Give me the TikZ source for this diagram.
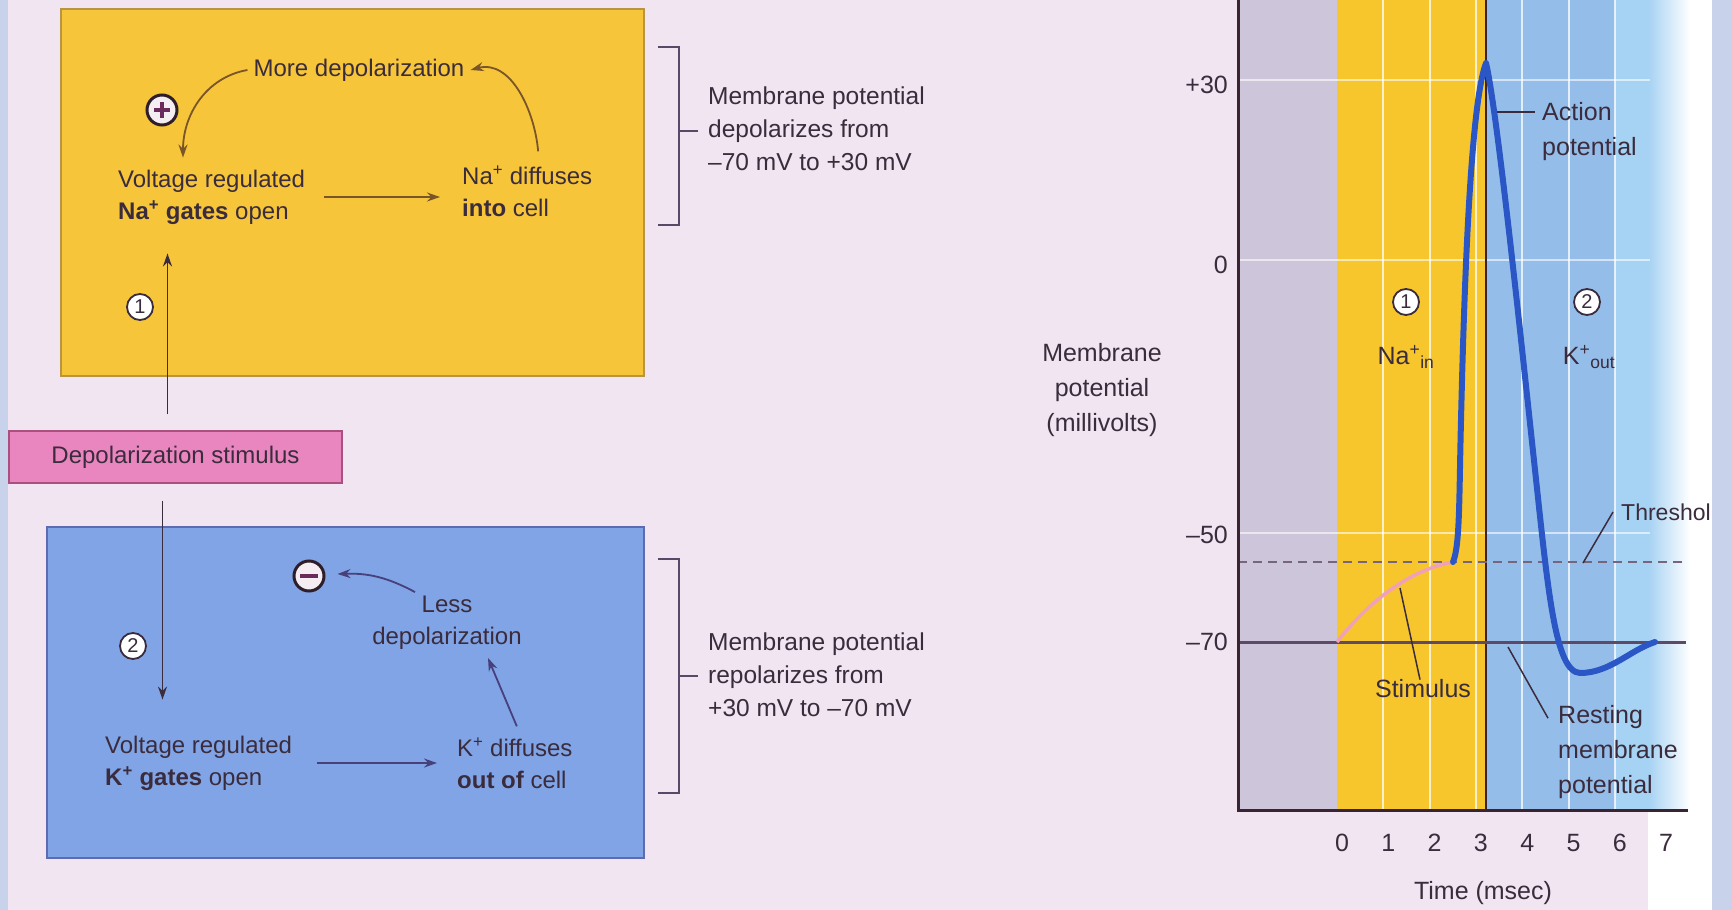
\documentclass[tikz,border=0pt]{standalone}
\usepackage{fontspec}
\setmainfont{Liberation Sans}
\usetikzlibrary{arrows.meta,shadings}
\definecolor{bg}{HTML}{F0E5F0}
\definecolor{edgec}{HTML}{C8D2EA}
\definecolor{ybox}{HTML}{F6C53A}
\definecolor{yboxb}{HTML}{B99443}
\definecolor{bbox}{HTML}{80A4E6}
\definecolor{bboxb}{HTML}{5D6CB0}
\definecolor{pbox}{HTML}{EA86BF}
\definecolor{pboxb}{HTML}{A9507F}
\definecolor{ink}{HTML}{3A2C3C}
\definecolor{brownarr}{HTML}{7A5528}
\definecolor{bluearr}{HTML}{47407A}
\definecolor{ggrey}{HTML}{CDC5D9}
\definecolor{gyel}{HTML}{F7C62C}
\definecolor{gblue}{HTML}{95BDEA}
\definecolor{gbluetwo}{HTML}{A6D2F3}
\definecolor{apblue}{HTML}{2A56C6}
\definecolor{stimpink}{HTML}{F0A0B8}
\definecolor{axisc}{HTML}{3A2430}
\definecolor{restc}{HTML}{5E4A66}
\definecolor{brkc}{HTML}{5A4868}
\definecolor{signink}{HTML}{2E1E2A}
\definecolor{signfill}{HTML}{F4EEF2}
\definecolor{plusc}{HTML}{6A2A5A}
\begin{document}
\begin{tikzpicture}[x=1pt,y=-1pt,
  txt/.style={font=\fontsize{24}{32}\selectfont, text=ink, inner sep=0pt, align=left},
  gtxt/.style={font=\fontsize{25}{35}\selectfont, text=ink, inner sep=0pt},
  arr/.style={-{Stealth[length=13pt,width=9pt]}, line width=1.8pt},
  numc/.style={circle, draw=ink, line width=1.8pt, fill=white, inner sep=0pt, minimum size=26pt, font=\fontsize{20}{20}\selectfont, text=ink},
  signc/.style={circle, draw=signink, line width=3pt, fill=signfill, minimum size=30pt, inner sep=0pt},
  leader/.style={draw=ink, line width=1.5pt},
  brk/.style={draw=brkc, line width=2pt}]
\useasboundingbox (0,0) rectangle (1732,910);
\fill[bg] (0,0) rectangle (1732,910);
\fill[edgec] (0,0) rectangle (8,910);

% ---------- boxes ----------
\fill[ybox] (61,9) rectangle (644,376);
\draw[yboxb, line width=1.5pt] (61,9) rectangle (644,376);
\fill[bbox] (47,527) rectangle (644,858);
\draw[bboxb, line width=1.5pt] (47,527) rectangle (644,858);

% ---------- yellow box content ----------
\node[txt, anchor=center] (moredep) at (359,70) {More depolarization};
\node[txt, anchor=west] (naopen) at (118,197) {Voltage regulated\\\textbf{Na\textsuperscript{+} gates} open};
\node[txt, anchor=west] (nadiff) at (462,191) {Na\textsuperscript{+} diffuses\\\textbf{into} cell};
\node[signc] (plus) at (162,110) {};
\draw[line width=3.5pt, plusc] ([xshift=-8pt]plus.center) -- ([xshift=8pt]plus.center)
  ([yshift=-8pt]plus.center) -- ([yshift=8pt]plus.center);
\node[numc] (c1) at (140,307) {1};
\draw[arr, brownarr] ([xshift=-6pt]moredep.west) to[out=190, in=90] ([xshift=65pt,yshift=12pt]naopen.north west);
\draw[arr, brownarr] ([xshift=11pt,yshift=14pt]nadiff.north) to[out=95, in=15] ([xshift=6pt]moredep.east);
\draw[arr, brownarr, shorten <=19pt, shorten >=22pt] (naopen.east) -- (naopen.east -| nadiff.west);

% ---------- stimulus ----------
\node[rectangle, fill=pbox, draw=pboxb, line width=1.5pt, minimum width=333pt, minimum height=52pt,
  inner sep=0pt, font=\fontsize{24}{28}\selectfont, text=ink] (stim) at (175.5,457) {Depolarization stimulus};
\coordinate (upa) at ([xshift=-8pt,yshift=16pt]stim.north);
\draw[arr, ink, line width=1.5pt, shorten >=29pt] (upa) -- (upa |- naopen.south);

% ---------- blue box content ----------
\node[signc] (minus) at (309,576) {};
\draw[line width=4pt, plusc] ([xshift=-9pt]minus.center) -- ([xshift=9pt]minus.center);
\node[txt, align=center] (lessdep) at (447,623) {Less\\depolarization};
\node[txt, anchor=west] (kopen) at (105,763) {Voltage regulated\\\textbf{K\textsuperscript{+} gates} open};
\node[txt, anchor=west] (kdiff) at (457,763) {K\textsuperscript{+} diffuses\\\textbf{out of} cell};
\node[numc] (c2) at (133,646) {2};
\coordinate (dna) at ([xshift=-13pt,yshift=-17pt]stim.south);
\draw[arr, ink, line width=1.5pt, shorten >=36pt] (dna) -- (dna |- kopen.north);
\draw[arr, bluearr] ([xshift=-32pt,yshift=4pt]lessdep.north) to[bend right=15] ([xshift=12pt,yshift=2pt]minus.east);
\draw[arr, bluearr] ([xshift=2pt,yshift=11pt]kdiff.north) -- ([xshift=41pt,yshift=-8pt]lessdep.south);
\draw[arr, bluearr, shorten <=25pt, shorten >=20pt] (kopen.east) -- (kopen.east -| kdiff.west);

% ---------- brackets & side texts ----------
\node[txt, anchor=west, font=\fontsize{24.5}{33}\selectfont] (deptxt) at (708,129) {Membrane potential\\depolarizes from\\--70 mV to +30 mV};
\node[txt, anchor=west, font=\fontsize{24.5}{33}\selectfont] (reptxt) at (708,675) {Membrane potential\\repolarizes from\\+30 mV to --70 mV};
\draw[brk] (658,47) -- (679,47) -- (679,225) -- (658,225);
\draw[brk] (679,131) -- ([xshift=-10pt]deptxt.west |- 0,131);
\draw[brk] (658,559) -- (679,559) -- (679,793) -- (658,793);
\draw[brk] (679,676) -- ([xshift=-10pt]reptxt.west |- 0,676);

% ---------- graph background ----------
\fill[white] (1648,0) rectangle (1712,910);
\fill[ggrey] (1238,0) rectangle (1337,810);
\fill[gyel] (1337,0) rectangle (1486,810);
\fill[gblue] (1486,0) rectangle (1615,810);
\fill[gbluetwo] (1615,0) rectangle (1648,810);
\shade[left color=gbluetwo, right color=white] (1648,0) rectangle (1690,810);
\foreach \t in {1,...,6} {
  \draw[white, line width=2pt, opacity=0.75] ({1337+46.3*\t},0) -- ({1337+46.3*\t},810);
}
\foreach \yy in {80,260,533} {
  \draw[white, line width=2pt, opacity=0.6] (1238,\yy) -- (1650,\yy);
}
\draw[axisc, line width=2.5pt] (1486,0) -- (1486,810);
\draw[restc, line width=3pt] (1238,642) -- (1686,642);
\draw[restc!85, line width=2.5pt, dash pattern=on 9pt off 6pt] (1238,562) -- (1682,562);
\draw[axisc, line width=3pt] (1238,0) -- (1238,810) -- (1688,810);
\draw[stimpink, line width=3.5pt] (1337,642) .. controls (1370,600) and (1410,570) .. (1453,562);
\draw[apblue, line width=6pt, line join=round, line cap=round]
  (1453,562) .. controls (1460,545) and (1459,500) .. (1461,420)
  .. controls (1465,250) and (1472,100) .. (1486,63)
  .. controls (1497,110) and (1520,330) .. (1535,470)
  .. controls (1548,590) and (1555,672) .. (1580,673)
  .. controls (1610,673) and (1630,650) .. (1655,642);

% ---------- graph labels ----------
\node[gtxt, anchor=east] (t30) at (1228,85) {+30};
\node[gtxt, anchor=east] (t0) at (1228,265) {0};
\node[gtxt, anchor=east] (t50) at (1228,535) {--50};
\node[gtxt, anchor=east] (t70) at (1228,642) {--70};
\node[gtxt, align=center] (ylab) at (1102,390) {Membrane\\potential\\(millivolts)};
\foreach \t in {0,...,7} {
  \node[gtxt] (x\t) at ({1342+46.3*\t},843) {\t};
}
\node[gtxt] (xlab) at (1483,893) {Time (msec)};
\node[numc] (g1) at (1406,302) {1};
\node[gtxt] (nain) at (1406,357) {Na\textsuperscript{+}\textsubscript{in}};
\node[numc] (g2) at (1587,302) {2};
\node[gtxt] (kout) at (1589,357) {K\textsuperscript{+}\textsubscript{out}};
\node[gtxt, anchor=west, align=left] (aplbl) at (1542,132) {Action\\potential};
\coordinate (appt) at (1497,112);
\draw[leader] (appt) -- ([xshift=-7pt]aplbl.west |- appt);
\node[gtxt] (stimlbl) at (1423,689) {Stimulus};
\coordinate (stimpt) at (1400,588);
\draw[leader] ([xshift=-3pt]stimlbl.north) -- (stimpt);
\node[gtxt, anchor=west, align=left] (restlbl) at (1558,752) {Resting\\membrane\\potential};
\coordinate (restpt) at (1508,647);
\draw[leader] (restpt) -- ([xshift=-10pt,yshift=-13pt]restlbl.north west);
\node[gtxt, anchor=west, font=\fontsize{23}{28}\selectfont] (thrlbl) at (1621,512) {Threshol};
\coordinate (thrpt) at (1583,563);
\draw[leader] (thrpt) -- ([xshift=-8pt]thrlbl.west);

\fill[edgec] (1712,0) rectangle (1732,910);
\end{tikzpicture}
\end{document}
